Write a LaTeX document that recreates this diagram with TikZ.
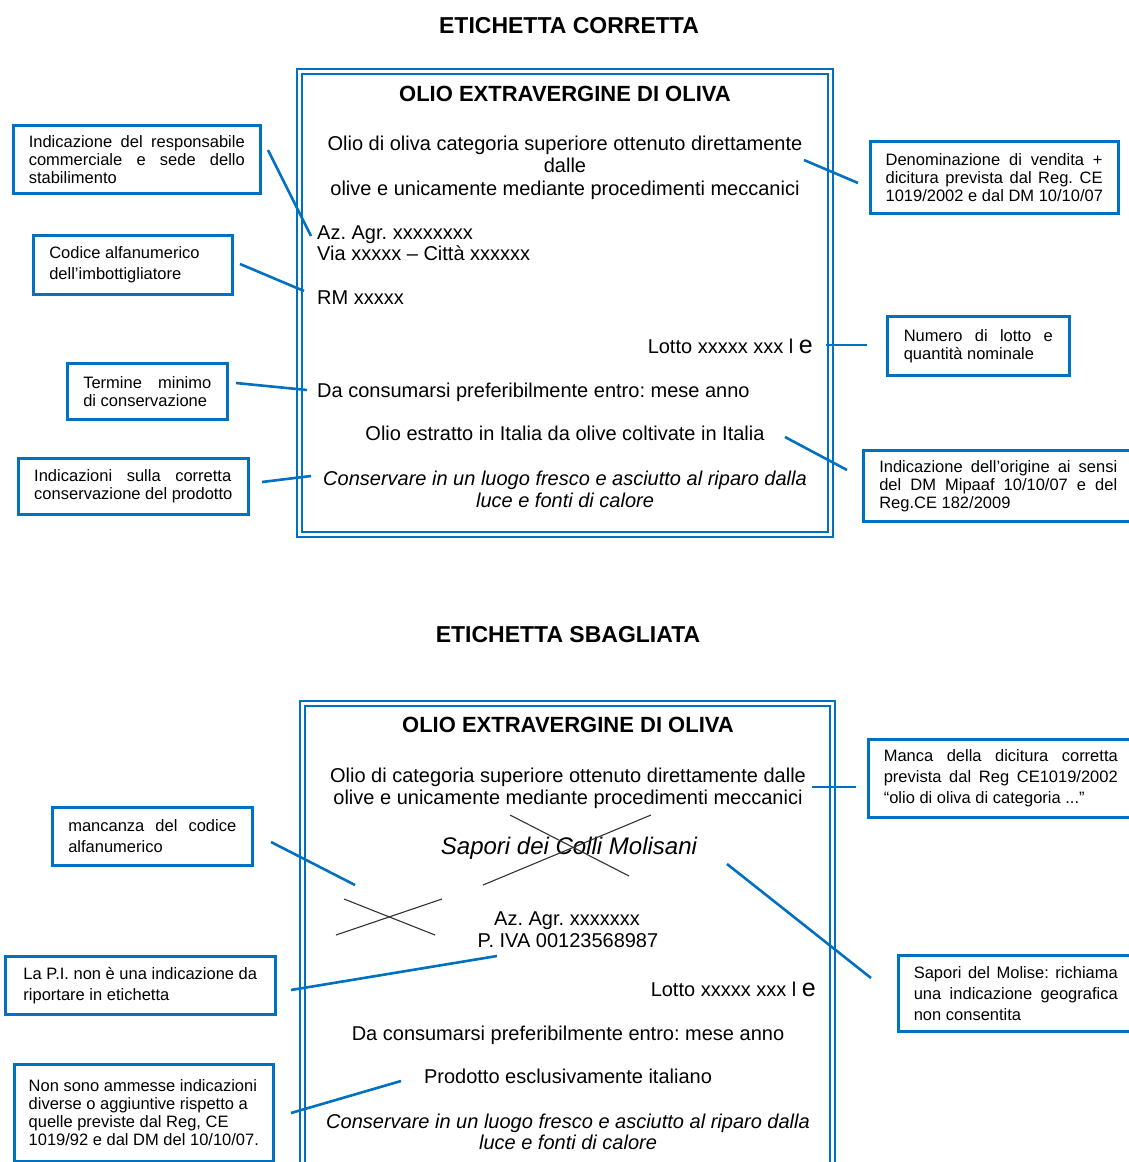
\documentclass[tikz,border=0pt]{standalone}
\usepackage{fontspec}
\setmainfont{Liberation Sans}
\frenchspacing
\definecolor{cblue}{RGB}{0,112,192}
\newcommand{\jl}[2]{\makebox[#1pt][s]{#2}}
\newcommand{\estm}{{\fontsize{25}{25}\selectfont e}}
\tikzset{
  lbltext/.style={inner sep=0pt, font=\fontsize{20}{22.5}\selectfont},
  lblital/.style={inner sep=0pt, font=\itshape\fontsize{20}{22.5}\selectfont},
  ttl/.style={inner sep=0pt, font=\bfseries\fontsize{23}{26}\selectfont},
  ltitle/.style={inner sep=0pt, font=\bfseries\fontsize{22}{26}\selectfont},
  cbox/.style={draw=cblue, line width=2.6pt, fill=white, inner xsep=0pt, inner ysep=0pt,
    anchor=north west, align=left, font=\fontsize{16.5}{18}\selectfont},
  wide/.style={font=\fontsize{16.5}{21}\selectfont},
  conn/.style={draw=cblue, line width=2.6pt},
  frame/.style={draw=cblue, line width=1.4pt},
  xline/.style={draw=black!80, line width=1.1pt},
}
\begin{document}
\begin{tikzpicture}[x=1pt, y=-1pt]
\useasboundingbox (0,0) rectangle (1129,1162);
\fill[white] (0,0) rectangle (1129,1162);
\clip (0,0) rectangle (1129,1162);

% ---------- titles ----------
\node[ttl, anchor=base] (title1) at (569,33) {ETICHETTA CORRETTA};
\node[ttl, anchor=base] (title2) at (568,642) {ETICHETTA SBAGLIATA};

% ---------- top label ----------
\draw[frame] (297,69) rectangle (833,537);
\draw[frame] (302,74) rectangle (828,532);
\node[ltitle, anchor=base] (t1) at (565,101) {OLIO EXTRAVERGINE DI OLIVA};
\node[lbltext, anchor=base] (d1a) at (565,150) {Olio di oliva categoria superiore ottenuto direttamente};
\node[lbltext, anchor=base] (d1b) at (565,172.5) {dalle};
\node[lbltext, anchor=base] (d1c) at (565,195) {olive e unicamente mediante procedimenti meccanici};
\node[lbltext, anchor=base west] (az1) at (317,239) {Az. Agr. xxxxxxxx};
\node[lbltext, anchor=base west] (via1) at (317,260) {Via xxxxx – Città xxxxxx};
\node[lbltext, anchor=base west] (rm1) at (317,304) {RM xxxxx};
\node[lbltext, anchor=base east] (lot1) at (813,353) {Lotto xxxxx xxx l \estm};
\node[lbltext, anchor=base west] (da1) at (317,397) {Da consumarsi preferibilmente entro: mese anno};
\node[lbltext, anchor=base] (or1) at (565,440) {Olio estratto in Italia da olive coltivate in Italia};
\node[lblital, anchor=base] (co1a) at (565,485) {Conservare in un luogo fresco e asciutto al riparo dalla};
\node[lblital, anchor=base] (co1b) at (565,507) {luce e fonti di calore};

% ---------- top callouts ----------
\node[cbox, minimum width=247pt, minimum height=68pt] (A) at (12,124)
  {\jl{216}{Indicazione del responsabile}\\\jl{216}{commerciale e sede dello}\\stabilimento};
\node[cbox, wide, minimum width=199pt, minimum height=59pt] (B) at (32,234)
  {\makebox[167pt][l]{Codice alfanumerico}\\dell’imbottigliatore};
\node[cbox, minimum width=160pt, minimum height=56pt] (C) at (66,362)
  {\jl{128}{Termine minimo}\\di conservazione};
\node[cbox, minimum width=230pt, minimum height=56pt] (D) at (17,457)
  {\jl{197}{Indicazioni sulla corretta}\\conservazione del prodotto};
\node[cbox, minimum width=248pt, minimum height=72pt] (E) at (869,140)
  {\jl{217}{Denominazione di vendita +}\\\jl{217}{dicitura prevista dal Reg. CE}\\1019/2002 e dal DM 10/10/07};
\node[cbox, minimum width=182pt, minimum height=59pt] (F) at (886,315)
  {\jl{149}{Numero di lotto e}\\quantità nominale};
\node[cbox, minimum width=270pt, minimum height=71pt] (G) at (862,449)
  {\jl{238}{Indicazione dell’origine ai sensi}\\\jl{238}{del DM Mipaaf 10/10/07 e del}\\Reg.CE 182/2009};

\coordinate (A1) at (268,150); \coordinate (A2) at (311,236);
\coordinate (B1) at (240,264); \coordinate (B2) at (304,291);
\coordinate (C1) at (236,383); \coordinate (C2) at (307,390);
\coordinate (D1) at (262,482); \coordinate (D2) at (311,476);
\coordinate (E1) at (804,160); \coordinate (E2) at (858,183);
\coordinate (F1) at (826,345); \coordinate (F2) at (867,345);
\coordinate (G1) at (785,437); \coordinate (G2) at (847,470);
\draw[conn] (A1) -- (A2);
\draw[conn] (B1) -- (B2);
\draw[conn] (C1) -- (C2);
\draw[conn] (D1) -- (D2);
\draw[conn] (E1) -- (E2);
\draw[conn] (F1) -- (F2);
\draw[conn] (G1) -- (G2);

% ---------- bottom label ----------
\draw[frame] (300,701) rectangle (835,1180);
\draw[frame] (305,706) rectangle (830,1175);
\node[ltitle, anchor=base] (t2) at (568,732) {OLIO EXTRAVERGINE DI OLIVA};
\node[lbltext, anchor=base] (d2a) at (568,782) {Olio di categoria superiore ottenuto direttamente dalle};
\node[lbltext, anchor=base] (d2b) at (568,804) {olive e unicamente mediante procedimenti meccanici};
\node[inner sep=0pt, font=\itshape\fontsize{24}{26}\selectfont, anchor=base] (sap) at (569,854) {Sapori dei Colli Molisani};
\node[lbltext, anchor=base] (az2) at (567,925) {Az. Agr. xxxxxxx};
\node[lbltext, anchor=base] (iva2) at (568,947) {P. IVA 00123568987};
\node[lbltext, anchor=base east] (lot2) at (816,996) {Lotto xxxxx xxx l \estm};
\node[lbltext, anchor=base] (da2) at (568,1040) {Da consumarsi preferibilmente entro: mese anno};
\node[lbltext, anchor=base] (pr2) at (568,1083) {Prodotto esclusivamente italiano};
\node[lblital, anchor=base] (co2a) at (568,1128) {Conservare in un luogo fresco e asciutto al riparo dalla};
\node[lblital, anchor=base] (co2b) at (568,1149) {luce e fonti di calore};

% crosses
\draw[xline] (510,815) -- (629,876);
\draw[xline] (483,885) -- (651,815);
\draw[xline] (344,899) -- (435,935);
\draw[xline] (336,935) -- (442,899);

% ---------- bottom callouts ----------
\node[cbox, wide, minimum width=265pt, minimum height=78pt] (H) at (867,738)
  {\jl{234}{Manca della dicitura corretta}\\\jl{234}{prevista dal Reg CE1019/2002}\\“olio di oliva di categoria ...”};
\node[cbox, wide, minimum width=200pt, minimum height=58pt] (I) at (51,806)
  {\jl{168}{mancanza del codice}\\alfanumerico};
\node[cbox, wide, minimum width=270pt, minimum height=58pt] (J) at (4,955)
  {La P.I. non è una indicazione da\\riportare in etichetta};
\node[cbox, minimum width=259pt, minimum height=97pt] (K) at (13,1063)
  {Non sono ammesse indicazioni\\diverse o aggiuntive rispetto a\\quelle previste dal Reg, CE\\1019/92 e dal DM del 10/10/07.};
\node[cbox, wide, minimum width=235pt, minimum height=76pt] (L) at (897,954)
  {\jl{204}{Sapori del Molise: richiama}\\\jl{204}{una indicazione geografica}\\non consentita};

\coordinate (H1) at (812,787); \coordinate (H2) at (856,787);
\coordinate (I1) at (271,842); \coordinate (I2) at (355,885);
\coordinate (J1) at (291,990); \coordinate (J2) at (497,956);
\coordinate (K1) at (291,1113); \coordinate (K2) at (401,1081);
\coordinate (L1) at (727,864); \coordinate (L2) at (871,978);
\draw[conn] (H1) -- (H2);
\draw[conn] (I1) -- (I2);
\draw[conn] (J1) -- (J2);
\draw[conn] (K1) -- (K2);
\draw[conn] (L1) -- (L2);
\end{tikzpicture}
\end{document}
